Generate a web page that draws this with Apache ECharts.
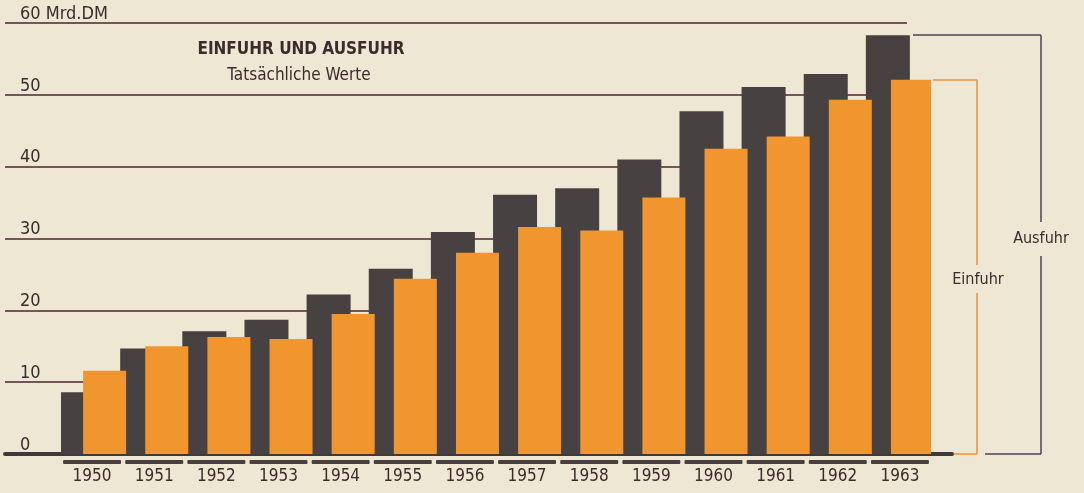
<!DOCTYPE html>
<html>
<head>
<meta charset="utf-8">
<title>Einfuhr und Ausfuhr</title>
<script src="https://cdn.jsdelivr.net/npm/echarts@6/dist/echarts.min.js"></script>
<style>
  html, body { margin: 0; padding: 0; background: #eee7d4; }
  #chart { width: 1084px; height: 493px; }
</style>
</head>
<body>
<div id="chart"></div>
<script>
// Werte in Mrd. DM
const years = ['1950', '1951', '1952', '1953', '1954', '1955', '1956',
  '1957', '1958', '1959', '1960', '1961', '1962', '1963'];
const ausfuhr = [8.6, 14.7, 17.1, 18.7, 22.2, 25.8, 30.9, 36.1, 37.0, 41.0, 47.7, 51.1, 52.9, 58.3];
const einfuhr = [11.6, 15.0, 16.3, 16.0, 19.5, 24.4, 28.0, 31.6, 31.1, 35.7, 42.5, 44.2, 49.3, 52.1];
const yTickLabels = ['0', '10', '20', '30', '40', '50', '60 Mrd.DM'];

const narrow = '"Liberation Sans Narrow", "DejaVu Sans Condensed", "Roboto Condensed", Roboto, sans-serif';
const paper = '#eee7d4';
const dark = '#474241';
const orange = '#f1962f';
const ink = '#3e2a2c';
const gridTop = 23, gridBottom = 39;
const last = years.length - 1;

const chart = echarts.init(document.getElementById('chart'));

const option = {
  backgroundColor: paper,
  animation: false,
  grid: [
    {left: 61, right: 153, top: gridTop, bottom: gridBottom},  // Balken
    {left: 5, right: 177, top: gridTop, bottom: gridBottom},   // Hilfslinien
    {left: 5, right: 132, top: gridTop, bottom: gridBottom}    // Grundlinie
  ],
  xAxis: [
    {
      gridIndex: 0,
      type: 'category',
      data: years,
      axisLine: {show: false},
      axisTick: {show: false},
      axisLabel: {
        interval: 0,
        margin: 6,
        formatter: v => '{bar|}\n{yr|' + v + '}',
        rich: {
          bar: {width: 58, height: 4, lineHeight: 4, backgroundColor: '#4a3f40', borderRadius: 1},
          yr: {fontFamily: narrow, fontSize: 17, color: ink, lineHeight: 26}
        }
      }
    },
    {gridIndex: 1, type: 'value', min: 0, max: 1, show: false},
    {
      gridIndex: 2, type: 'value', min: 0, max: 1,
      axisLine: {onZero: false, lineStyle: {color: '#3f3a39', width: 4}},
      axisTick: {show: false},
      axisLabel: {show: false},
      splitLine: {show: false}
    }
  ],
  yAxis: [
    {gridIndex: 0, type: 'value', min: 0, max: 60, show: false},
    {
      gridIndex: 1, type: 'value', min: 0, max: 60, interval: 10,
      axisLine: {show: false},
      axisTick: {show: false},
      axisLabel: {
        inside: true,
        margin: 15,
        verticalAlign: 'bottom',
        fontFamily: narrow,
        fontSize: 18,
        color: ink,
        formatter: v => yTickLabels[Math.round(v / 10)]
      },
      splitLine: {lineStyle: {color: '#4c2332', width: 1.5}}
    },
    {gridIndex: 2, type: 'value', min: 0, max: 1, show: false}
  ],
  series: [
    {
      name: 'Ausfuhr',
      type: 'bar',
      xAxisIndex: 0,
      yAxisIndex: 0,
      data: ausfuhr,
      barWidth: 44,
      barGap: '-43%',
      itemStyle: {color: dark},
      markLine: {
        silent: true,
        symbol: ['none', 'none'],
        label: {show: false},
        lineStyle: {color: '#4e3f5e', width: 1.5, type: 'solid'},
        data: [
          [{x: 913, yAxis: ausfuhr[last]}, {x: 1041, yAxis: ausfuhr[last]}],
          [{x: 1041, yAxis: ausfuhr[last]}, {x: 1041, y: 222}],
          [{x: 1041, y: 256}, {x: 1041, yAxis: 0}],
          [{x: 985, yAxis: 0}, {x: 1041, yAxis: 0}]
        ]
      }
    },
    {
      name: 'Einfuhr',
      type: 'bar',
      xAxisIndex: 0,
      yAxisIndex: 0,
      data: einfuhr,
      barWidth: 43,
      itemStyle: {color: orange},
      markLine: {
        silent: true,
        symbol: ['none', 'none'],
        label: {show: false},
        lineStyle: {color: '#ee8f3a', width: 1.5, type: 'solid'},
        data: [
          [{x: 933, yAxis: einfuhr[last]}, {x: 977, yAxis: einfuhr[last]}],
          [{x: 977, yAxis: einfuhr[last]}, {x: 977, y: 265}],
          [{x: 977, y: 293}, {x: 977, yAxis: 0}],
          [{x: 954, yAxis: 0}, {x: 977, yAxis: 0}]
        ]
      }
    }
  ],
  graphic: [
    {
      type: 'text', x: 301, y: 50,
      style: {text: 'EINFUHR UND AUSFUHR', font: 'bold 17px ' + narrow, fill: ink, align: 'center', verticalAlign: 'middle'}
    },
    {
      type: 'text', x: 299, y: 76,
      style: {text: 'Tatsächliche Werte', font: '17px ' + narrow, fill: ink, align: 'center', verticalAlign: 'middle'}
    },
    {
      type: 'text', x: 978, y: 280,
      style: {text: 'Einfuhr', font: '16px ' + narrow, fill: ink, align: 'center', verticalAlign: 'middle'}
    },
    {
      type: 'text', x: 1041, y: 239,
      style: {text: 'Ausfuhr', font: '16px ' + narrow, fill: ink, align: 'center', verticalAlign: 'middle'}
    }
  ]
};

chart.setOption(option);
</script>
</body>
</html>
